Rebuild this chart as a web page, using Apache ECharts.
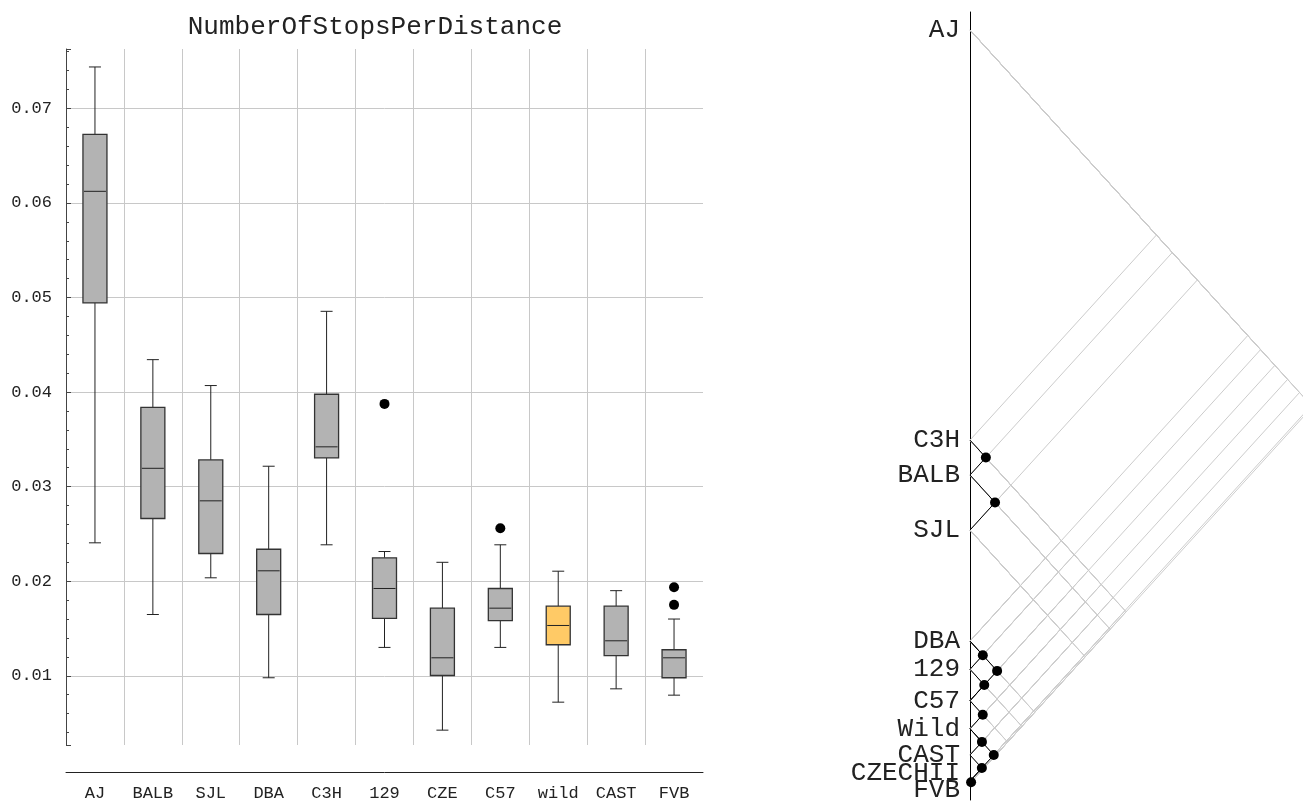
<!DOCTYPE html>
<html><head><meta charset="utf-8">
<script src="https://cdn.jsdelivr.net/npm/echarts@6/dist/echarts.min.js"></script>
<style>html,body{margin:0;padding:0;background:#fff}#c{width:1303px;height:802px}</style>
</head><body><div id="c"></div>
<script>
// ---------- Box plot data ----------
const categories  = ['AJ','BALB','SJL','DBA','C3H','129','CZE','C57','wild','CAST','FVB'];
const whiskerLow  = [0.02406,0.01648,0.02036,0.00979,0.02385,0.01300,0.00425,0.01300,0.00721,0.00862,0.00795];
const quart1      = [0.04943,0.02663,0.02293,0.01648,0.03304,0.01606,0.01003,0.01584,0.01328,0.01214,0.00979];
const medians     = [0.06123,0.03194,0.02850,0.02110,0.03421,0.01923,0.01190,0.01715,0.01532,0.01370,0.01190];
const quart3      = [0.06725,0.03839,0.03283,0.02338,0.03977,0.02247,0.01715,0.01923,0.01736,0.01736,0.01275];
const whiskerHigh = [0.07438,0.04343,0.04069,0.03216,0.04854,0.02314,0.02200,0.02385,0.02106,0.01900,0.01600];
const outlierCats = ['129','C57','FVB','FVB'];
const outlierVals = [0.03875,0.02560,0.01937,0.01750];
const highlightCat = 'wild';

// ---------- Comparison (median) diagram data ----------
const cmpNames   = ['AJ','C3H','BALB','SJL','DBA','129','C57','Wild','CAST','CZECHII','FVB'];
const cmpMedians = [0.06123,0.03434,0.03205,0.02844,0.02116,0.01931,0.01725,0.01541,0.01369,0.01198,0.01182];
const samePairs  = [['C3H','BALB'],['BALB','SJL'],['DBA','129'],['DBA','C57'],['129','C57'],
                    ['C57','Wild'],['Wild','CAST'],['Wild','CZECHII'],['CAST','CZECHII'],['CZECHII','FVB']];
const labelNudge = [0,0,0,0,0,0,0,0,0,-8,7];

const FONT = 'Liberation Mono';
const TXT = '#222';

const boxData = categories.map((c,i)=>[i, whiskerLow[i], quart1[i], medians[i], quart3[i], whiskerHigh[i]]);
const outData = outlierCats.map((c,i)=>[categories.indexOf(c), outlierVals[i]]);

const isSame = (a,b)=>samePairs.some(p=>(p[0]===a&&p[1]===b)||(p[0]===b&&p[1]===a));
const grayPairs=[], blackPairs=[], dots=[];
for(let i=0;i<cmpNames.length;i++){
  for(let j=i+1;j<cmpNames.length;j++){
    const a=cmpMedians[i], b=cmpMedians[j];
    if(isSame(cmpNames[i],cmpNames[j])){ blackPairs.push([a,b]); dots.push([Math.abs(a-b)/2,(a+b)/2]); }
    else grayPairs.push([a,b]);
  }
}
const pairRender = (color)=>function(params, api){
  const a=api.value(0), b=api.value(1);
  const p1=api.coord([0,a]), pm=api.coord([Math.abs(a-b)/2,(a+b)/2]), p2=api.coord([0,b]);
  return {type:'polyline', shape:{points:[p1,pm,p2]}, style:{stroke:color, lineWidth:1, fill:null}};
};

const chart = echarts.init(document.getElementById('c'), null, {renderer:'canvas'});
chart.setOption({
  animation:false,
  backgroundColor:'#fff',
  graphic:[{type:'text', x:375, y:27, style:{text:'NumberOfStopsPerDistance', textAlign:'center', textVerticalAlign:'middle',
            font:'26px "'+FONT+'"', fill:TXT}}],
  grid:[
    {left:66, top:49, width:637, height:696},
    {left:970, top:12, width:333, height:788}
  ],
  xAxis:[
    {type:'category', gridIndex:0, data:categories, offset:27, boundaryGap:true,
     axisLine:{lineStyle:{color:'#222', width:1}},
     axisTick:{inside:true, length:5, alignWithLabel:true, lineStyle:{color:'#222'}},
     axisLabel:{fontFamily:FONT, fontSize:17, color:TXT, margin:13},
     splitLine:{show:true, showMinLine:false, showMaxLine:false, lineStyle:{color:'#c8c8c8', width:1}}},
    {type:'value', gridIndex:1, min:0, max:0.02402, show:false}
  ],
  yAxis:[
    {type:'value', gridIndex:0, min:0.00268, max:0.07628, splitNumber:7, minInterval:0.01, maxInterval:0.01,
     axisLine:{show:true, lineStyle:{color:'#444', width:1}},
     axisTick:{show:true, inside:true, length:5, lineStyle:{color:'#444'}},
     minorTick:{show:true, splitNumber:5, length:3, lineStyle:{color:'#444'}},
     axisLabel:{fontFamily:FONT, fontSize:17, color:TXT, margin:14, showMinLabel:false, showMaxLabel:false},
     splitLine:{show:true, showMinLine:false, showMaxLine:false, lineStyle:{color:'#c8c8c8', width:1}}},
    {type:'value', gridIndex:1, min:0.01074, max:0.06241,
     axisLine:{show:true, lineStyle:{color:'#000', width:1}},
     axisTick:{show:false}, axisLabel:{show:false}, splitLine:{show:false}}
  ],
  series:[
    {type:'custom', xAxisIndex:0, yAxisIndex:0, data:boxData, encode:{x:0, y:[1,2,3,4,5]},
     renderItem:function(params, api){
       const i=api.value(0);
       const lo=api.coord([i,api.value(1)]), b1=api.coord([i,api.value(2)]), md=api.coord([i,api.value(3)]),
             b3=api.coord([i,api.value(4)]), hi=api.coord([i,api.value(5)]);
       const x=lo[0], hw=12, cw=6;
       const fill = categories[i]===highlightCat ? '#ffca66' : '#b3b3b3';
       const ls={stroke:'#222', lineWidth:1};
       return {type:'group', children:[
         {type:'line', shape:{x1:x,y1:hi[1],x2:x,y2:b3[1]}, style:ls},
         {type:'line', shape:{x1:x,y1:lo[1],x2:x,y2:b1[1]}, style:ls},
         {type:'line', shape:{x1:x-cw,y1:hi[1],x2:x+cw,y2:hi[1]}, style:ls},
         {type:'line', shape:{x1:x-cw,y1:lo[1],x2:x+cw,y2:lo[1]}, style:ls},
         {type:'rect', shape:{x:x-hw,y:b3[1],width:2*hw,height:b1[1]-b3[1]}, style:{fill:fill, stroke:'#333', lineWidth:1.3}},
         {type:'line', shape:{x1:x-hw+1,y1:md[1],x2:x+hw-1,y2:md[1]}, style:ls}
       ]};
     }},
    {type:'scatter', xAxisIndex:0, yAxisIndex:0, data:outData, symbol:'circle', symbolSize:10,
     itemStyle:{color:'#000', opacity:1}},
    {type:'custom', xAxisIndex:1, yAxisIndex:1, data:grayPairs, encode:{x:0,y:1}, renderItem:pairRender('#cccccc'), z:2},
    {type:'custom', xAxisIndex:1, yAxisIndex:1, data:blackPairs, encode:{x:0,y:1}, renderItem:pairRender('#000'), z:3},
    {type:'scatter', xAxisIndex:1, yAxisIndex:1, data:dots, symbol:'circle', symbolSize:10, itemStyle:{color:'#000', opacity:1}, z:4},
    {type:'custom', xAxisIndex:1, yAxisIndex:1, data:cmpMedians.map((v,i)=>[0,v,i]), encode:{x:0,y:1}, clip:false, z:5,
     renderItem:function(params, api){
       const idx=api.value(2);
       const p=api.coord([0,api.value(1)]);
       return {type:'text', x:p[0]-10, y:p[1]+labelNudge[idx], style:{text:cmpNames[idx], textAlign:'right', textVerticalAlign:'middle',
               font:'26px "'+FONT+'"', fill:TXT}};
     }}
  ]
});
</script></body></html>
